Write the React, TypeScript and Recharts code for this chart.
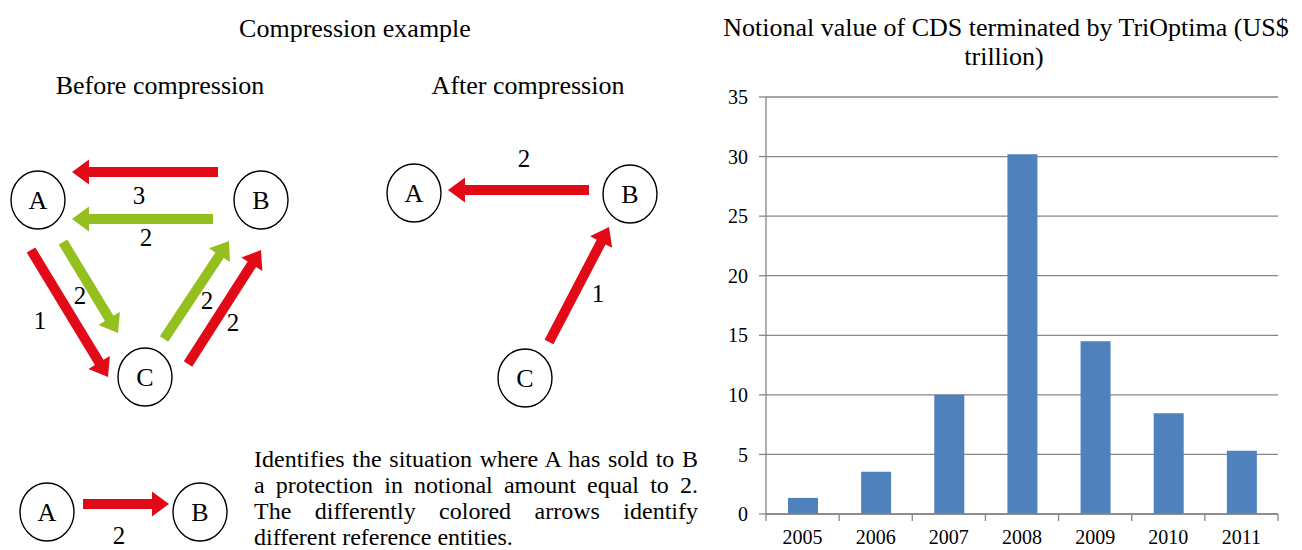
import React from 'react';
import { BarChart, Bar, XAxis, YAxis, CartesianGrid } from 'recharts';

// ---- chart data ----
const years = ['2005', '2006', '2007', '2008', '2009', '2010', '2011'];
const notionalTerminated = [1.35, 3.55, 10.0, 30.2, 14.5, 8.45, 5.3];
const yTicks = [0, 5, 10, 15, 20, 25, 30, 35];

const chartTitle1 = 'Notional value of CDS terminated by TriOptima (US$';
const chartTitle2 = 'trillion)';

// ---- diagram content ----
const RED = '#E30A17';
const GREEN = '#93C01F';
const FONT = '"Liberation Serif", "Times New Roman", serif';

type Arrow = { x1: number; y1: number; x2: number; y2: number; c: string };
const arrows: Arrow[] = [
  { x1: 218, y1: 172, x2: 72, y2: 172, c: RED },
  { x1: 213, y1: 219, x2: 72, y2: 219, c: GREEN },
  { x1: 31, y1: 250, x2: 108, y2: 377, c: RED },
  { x1: 63, y1: 242, x2: 118, y2: 333, c: GREEN },
  { x1: 164, y1: 339, x2: 229, y2: 241, c: GREEN },
  { x1: 188, y1: 364, x2: 261, y2: 250, c: RED },
  { x1: 589, y1: 190, x2: 448, y2: 190, c: RED },
  { x1: 549, y1: 342, x2: 609, y2: 227, c: RED },
  { x1: 83, y1: 504, x2: 169, y2: 504, c: RED },
];

const nodes = [
  { l: 'A', x: 38, y: 200 },
  { l: 'B', x: 261, y: 200 },
  { l: 'C', x: 145, y: 377 },
  { l: 'A', x: 414, y: 193 },
  { l: 'B', x: 630, y: 194 },
  { l: 'C', x: 525, y: 378 },
  { l: 'A', x: 47, y: 512 },
  { l: 'B', x: 200, y: 512 },
];

const amounts = [
  { t: '3', x: 139, y: 195 },
  { t: '2', x: 146, y: 237 },
  { t: '2', x: 80, y: 295 },
  { t: '1', x: 40, y: 320 },
  { t: '2', x: 207, y: 300 },
  { t: '2', x: 233, y: 322 },
  { t: '2', x: 524, y: 158 },
  { t: '1', x: 598, y: 293 },
  { t: '2', x: 119, y: 535 },
];

const noteLines = [
  'Identifies the situation where A has sold to B',
  'a protection in notional amount equal to 2.',
  'The differently colored arrows identify',
  'different reference entities.',
];

function arrowPoints(a: Arrow, sw = 5, hw = 12.5, hl = 17) {
  const dx = a.x2 - a.x1;
  const dy = a.y2 - a.y1;
  const len = Math.hypot(dx, dy);
  const ux = dx / len;
  const uy = dy / len;
  const px = -uy;
  const py = ux;
  const bx = a.x2 - ux * hl;
  const by = a.y2 - uy * hl;
  const pts = [
    [a.x1 + px * sw, a.y1 + py * sw],
    [bx + px * sw, by + py * sw],
    [bx + px * hw, by + py * hw],
    [a.x2, a.y2],
    [bx - px * hw, by - py * hw],
    [bx - px * sw, by - py * sw],
    [a.x1 - px * sw, a.y1 - py * sw],
  ];
  return pts.map((p) => p.join(',')).join(' ');
}

// ---- chart geometry ----
const CHART_LEFT = 700;
const CHART_W = 602;
const CHART_H = 550;
const MARGIN = { top: 97, right: 24, left: 0, bottom: 0 };
const Y_AXIS_W = 66;
const X_AXIS_H = 36;
const PLOT_W = CHART_W - MARGIN.left - MARGIN.right - Y_AXIS_W;
const BAND = PLOT_W / years.length;
const AXIS_GREY = '#868686';

const data = years.map((y, i) => ({ year: y, value: notionalTerminated[i] }));

const XTick = (props: any) => {
  const { x, y, payload, index } = props;
  return (
    <g>
      <line x1={x - BAND / 2} y1={y} x2={x - BAND / 2} y2={y + 7} stroke={AXIS_GREY} strokeWidth={1.3} />
      {index === years.length - 1 && (
        <line x1={x + BAND / 2} y1={y} x2={x + BAND / 2} y2={y + 7} stroke={AXIS_GREY} strokeWidth={1.3} />
      )}
      <text x={x} y={y + 30} textAnchor="middle" fontSize={20} fontFamily={FONT} fill="#000">
        {payload.value}
      </text>
    </g>
  );
};

export default function App() {
  return (
    <div style={{ position: 'absolute', left: 0, top: 0, width: 1302, height: 550, background: '#fff', overflow: 'hidden' }}>
      <svg width={1302} height={550} style={{ position: 'absolute', left: 0, top: 0 }}>
        <g fontFamily={FONT} fill="#000">
          <text x={355} y={37} fontSize={26} textAnchor="middle">Compression example</text>
          <text x={160} y={94} fontSize={26} textAnchor="middle">Before compression</text>
          <text x={528} y={94} fontSize={26} textAnchor="middle">After compression</text>
          <text x={1006} y={36} fontSize={26} textAnchor="middle">{chartTitle1}</text>
          <text x={1004} y={65} fontSize={26} textAnchor="middle">{chartTitle2}</text>
        </g>
        {arrows.map((a, i) => (
          <polygon key={'a' + i} points={arrowPoints(a)} fill={a.c} />
        ))}
        {nodes.map((n, i) => (
          <g key={'n' + i}>
            <ellipse cx={n.x} cy={n.y} rx={27} ry={29} fill="#fff" stroke="#000" strokeWidth={1.4} />
            <text x={n.x} y={n.y + 9} textAnchor="middle" fontSize={26} fontFamily={FONT} fill="#000">
              {n.l}
            </text>
          </g>
        ))}
        {amounts.map((m, i) => (
          <text key={'m' + i} x={m.x} y={m.y + 8.5} textAnchor="middle" fontSize={25} fontFamily={FONT} fill="#000">
            {m.t}
          </text>
        ))}
      </svg>
      <div style={{ position: 'absolute', left: 254, top: 446, width: 444, fontFamily: FONT, fontSize: 24, lineHeight: '26px', color: '#000' }}>
        {noteLines.map((l, i) => (
          <div
            key={i}
            style={{
              whiteSpace: 'nowrap',
              textAlign: 'justify',
              textAlignLast: i < noteLines.length - 1 ? 'justify' : 'left',
            }}
          >
            {l}
          </div>
        ))}
      </div>
      <div style={{ position: 'absolute', left: CHART_LEFT, top: 0 }}>
        <BarChart width={CHART_W} height={CHART_H} data={data} margin={MARGIN}>
          <CartesianGrid vertical={false} stroke={AXIS_GREY} strokeWidth={1.3} />
          <XAxis
            dataKey="year"
            height={X_AXIS_H}
            interval={0}
            tickLine={false}
            tickSize={0}
            tickMargin={0}
            axisLine={{ stroke: AXIS_GREY, strokeWidth: 1.3 }}
            tick={<XTick />}
          />
          <YAxis
            width={Y_AXIS_W}
            domain={[0, 35]}
            ticks={yTicks}
            interval={0}
            tickSize={7}
            tickMargin={11}
            axisLine={{ stroke: AXIS_GREY, strokeWidth: 1.3 }}
            tickLine={{ stroke: AXIS_GREY, strokeWidth: 1.3 }}
            tick={{ fontSize: 20, fontFamily: FONT, fill: '#000' }}
          />
          <Bar dataKey="value" fill="#4F81BD" barSize={30} isAnimationActive={false} />
        </BarChart>
      </div>
    </div>
  );
}
